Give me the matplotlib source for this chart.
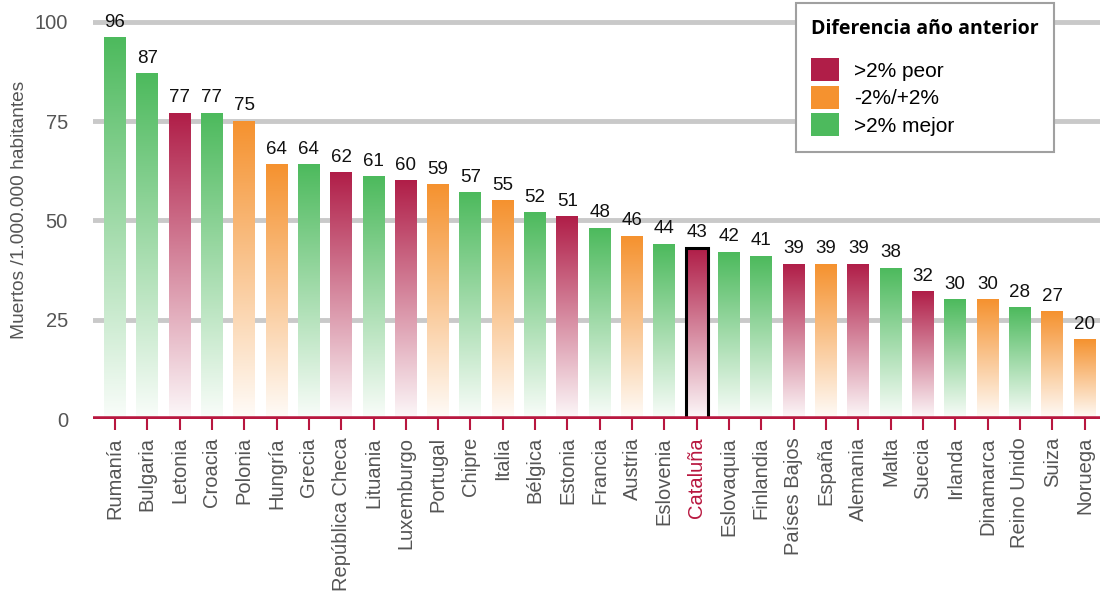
import numpy as np
import matplotlib.pyplot as plt
from matplotlib.colors import to_rgb
from matplotlib.patches import Patch

plt.rcParams['font.family'] = ['Liberation Sans', 'DejaVu Sans']

PAISES = [
    "Rumanía", "Bulgaria", "Letonia", "Croacia", "Polonia", "Hungría", "Grecia",
    "República Checa", "Lituania", "Luxemburgo", "Portugal", "Chipre", "Italia",
    "Bélgica", "Estonia", "Francia", "Austria", "Eslovenia", "Cataluña",
    "Eslovaquia", "Finlandia", "Países Bajos", "España", "Alemania", "Malta",
    "Suecia", "Irlanda", "Dinamarca", "Reino Unido", "Suiza", "Noruega",
]
MUERTOS = [96, 87, 77, 77, 75, 64, 64, 62, 61, 60, 59, 57, 55, 52, 51, 48, 46,
           44, 43, 42, 41, 39, 39, 39, 38, 32, 30, 30, 28, 27, 20]
# p = >2% peor, i = -2%/+2%, m = >2% mejor
TENDENCIA = ["m", "m", "p", "m", "i", "i", "m", "p", "m", "p", "i", "m", "i",
             "m", "p", "m", "i", "m", "p", "m", "m", "p", "i", "p", "m", "p",
             "m", "i", "m", "i", "i"]
DESTACADO = "Cataluña"

COLORES = {"p": "#b01e48", "i": "#f5922f", "m": "#4dba5d"}
LEYENDA = [("p", ">2% peor"), ("i", "-2%/+2%"), ("m", ">2% mejor")]
CRIMSON = "#b8173f"
GRIS = "#555555"

fig = plt.figure(figsize=(11.03, 5.93), dpi=100)
ax = fig.add_axes([0.0843, 0.2934, 0.9127, 0.7066])

ancho = 0.68
for i, (pais, v, t) in enumerate(zip(PAISES, MUERTOS, TENDENCIA)):
    base = np.array(to_rgb(COLORES[t]))
    frac = np.linspace(0.97, 0.0, 200)[:, None]  # bottom -> top
    rgb = base[None, :] * (1 - frac) + frac
    img = rgb[::-1][:, None, :]
    ax.imshow(img, extent=[i - ancho / 2, i + ancho / 2, 0, v],
              aspect="auto", origin="upper", zorder=2, interpolation="bilinear")
    if pais == DESTACADO:
        ax.bar(i, v, width=ancho, fill=False, edgecolor="black", linewidth=2.2,
               zorder=3)
    ax.annotate(str(v), (i, v), xytext=(0, 5), textcoords="offset points",
                ha="center", va="bottom", fontsize=13.5, color="#111111")

for y in [25, 50, 75, 100]:
    ax.axhline(y, color="#c9c9c9", lw=3.5, zorder=1)
ax.axhline(0, color=CRIMSON, lw=4, zorder=4, solid_capstyle="round")

ax.set_xlim(-0.68, 30.47)
ax.set_ylim(0, 105.5)
for s in ax.spines.values():
    s.set_visible(False)

ax.set_yticks([0, 25, 50, 75, 100])
ax.tick_params(axis="y", length=0, labelsize=14.5, labelcolor=GRIS, pad=18)
ax.set_xticks(range(len(PAISES)))
ax.set_xticklabels(PAISES, rotation=90, fontsize=14.5, color=GRIS)
ax.tick_params(axis="x", length=8, width=1.5, color=CRIMSON, pad=5)
for lab in ax.get_xticklabels():
    if lab.get_text() == DESTACADO:
        lab.set_color(CRIMSON)

ax.set_ylabel("Muertos /1.000.000 habitantes", fontsize=13.8, color=GRIS,
              labelpad=5)

handles = [Patch(facecolor=COLORES[k], edgecolor="none") for k, _ in LEYENDA]
leg = ax.legend(handles, [l for _, l in LEYENDA], loc="upper right",
                bbox_to_anchor=(0.955, 0.993), borderaxespad=0,
                title="Diferencia año anterior",
                title_fontproperties={"family": "Open Sans", "weight": "bold",
                                      "size": 14},
                fontsize=15, frameon=True, fancybox=False, edgecolor="#a0a0a0",
                handlelength=1.35, handleheight=1.35, handletextpad=0.7,
                labelspacing=0.2, borderpad=0.75, framealpha=1)
leg._legend_box.align = "left"
leg._legend_box.sep = 14
leg.get_frame().set_linewidth(1.5)
leg.set_zorder(5)

fig.savefig("out.png", dpi=100)
